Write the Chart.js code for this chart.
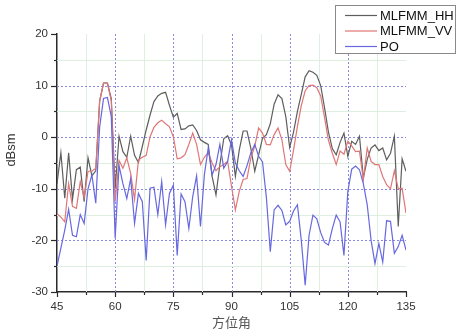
<!DOCTYPE html>
<html>
<head>
<meta charset="utf-8">
<script src="https://cdn.jsdelivr.net/npm/chart.js@4/dist/chart.umd.min.js"></script>
<style>
  html, body { margin: 0; padding: 0; background: #fff; }
  #wrap { width: 465px; height: 333px; position: relative; }
</style>
</head>
<body>
<div id="wrap"><canvas id="rcs"></canvas></div>
<script>
// RCS vs azimuth, 1 degree steps from 45 to 135

const azimuth = [
  45, 46, 47, 48, 49, 50, 51, 52, 53, 54, 55, 56, 57, 58, 59, 60, 61, 62, 63, 64,
  65, 66, 67, 68, 69, 70, 71, 72, 73, 74, 75, 76, 77, 78, 79, 80, 81, 82, 83, 84,
  85, 86, 87, 88, 89, 90, 91, 92, 93, 94, 95, 96, 97, 98, 99, 100, 101, 102, 103, 104,
  105, 106, 107, 108, 109, 110, 111, 112, 113, 114, 115, 116, 117, 118, 119, 120, 121, 122, 123, 124,
  125, 126, 127, 128, 129, 130, 131, 132, 133, 134, 135
];

const mlfmmHH = [
  -9, -3, -11.8, -3, -12, -6.3, -5.8, -12.5, -4, -7.5, -6.5, 7, 10.5, 10.5, 7.5, -10, 0.2, -2.8, -3.9, 0.2,
  -3.5, -4.9, -1.8, 1.4, 4.3, 6.9, 8, 8.5, 8.7, 6.2, 3.9, 4.6, 1.5, 1.6, 2.2, 2.4, 1.3, -0.5, -1, -1.4,
  -7.6, -11.2, -5.3, -0.3, 0.3, -1.5, -7.6, -2.5, 1.2, 1.2, -2.2, -6.6, -3.4, -0.2, 0.5, 2.6, 6.4, 8.2, 7.5, 4,
  -2, 1, 5, 8.3, 11.7, 12.9, 12.6, 12, 10, 5.7, 1, -2.2, -3.4, -1, 0.8, -3.7, -0.8, -1.4, 0.2, -7.9,
  -4.3, -2.1, -1.5, -2.6, -2.1, -4.4, -3.1, 0.2, -17.3, -4.2, -6.6
];

const mlfmmVV = [
  -14.8, -15.5, -16.4, -9, -13.4, -13.8, -8.6, -11.7, -6.6, -6.6, -6, 7, 10.5, 10.5, 7, -12.5, -4.5, -6, -4, -7,
  -12.1, -4.4, -3.9, -3.5, 0.1, 1.9, 2.8, 3.3, 2.6, 2, 0.1, -4.2, -4, -3.4, -1.4, 0.8, -1.4, -5.3, -3.9, -3,
  -5, -6.5, -5.7, -5.3, -4.7, -9.5, -14.1, -10.5, -8.2, -8, -4, -1.7, 1.8, 0.8, -1.4, -1.5, 0.5, 1.8, -0.5, -5.3,
  -6.6, -2.5, 2.1, 6.1, 9, 10, 10.1, 9.6, 8, 3.8, -0.6, -3.1, -5.3, -2.7, -3.3, -0.8, -1.7, -2.8, -2.7, -8.2,
  -2.1, -4.7, -5.3, -5.3, -7.6, -9.2, -10, -6.5, -10, -9.9, -14.7
];

const po = [
  -25, -21.5, -18, -14, -19, -19.3, -15, -16.7, -10, -7.3, -12.8, 2, 7.5, 7.7, 4, -19.6, -5.5, -9, -11.9, -8,
  -16.7, -10.9, -12.5, -23.9, -9.9, -9.7, -15, -8.6, -17, -10.9, -9.3, -22.9, -11, -12.5, -17.7, -11.5, -7.5, -17.3, -7.3, -2.1,
  -7.3, -5.3, -1.4, -6, -4.7, -0.5, -5, -6.5, -7.6, -5.5, -3, -1.4, -3.7, -4.8, -11.7, -22.2, -14.1, -13.2, -14.2, -17,
  -16.3, -14.3, -13.1, -20, -28.7, -19, -15.1, -15.8, -18.5, -20.4, -20.9, -17.7, -15.1, -16.4, -22.9, -10.5, -6.2, -5.6, -6.3, -9,
  -13.1, -20, -24.5, -20.6, -24.2, -16.2, -16.3, -22.5, -21.2, -19, -21.9
];

const seriesNames = ['MLFMM_HH', 'MLFMM_VV', 'PO'];
const seriesColors = ['#5e5e5e', '#e07676', '#6767e0'];

const xTitle = '方位角';
const yTitle = 'dBsm';

/* ---------------- helpers ---------------- */
function points(values) {
  return azimuth.map((a, i) => ({ x: a, y: values[i] }));
}

// Origin-style grid: dotted blue lines on major ticks, pale green on minor ones
const originGrid = {
  id: 'originGrid',
  beforeDatasetsDraw(chart) {
    const { ctx, chartArea: a, scales: { x, y } } = chart;
    ctx.save();
    ctx.lineWidth = 1;
    x.ticks.forEach(t => {
      if (t.value === x.min || t.value === x.max) return;
      const px = Math.round(x.getPixelForValue(t.value)) + 0.5;
      const major = t.value % 15 === 0;
      ctx.strokeStyle = major ? '#8a8ae2' : '#dfefdf';
      ctx.setLineDash(major ? [2, 2] : []);
      ctx.beginPath(); ctx.moveTo(px, a.top); ctx.lineTo(px, a.bottom); ctx.stroke();
    });
    y.ticks.forEach(t => {
      if (t.value === y.min || t.value === y.max) return;
      const py = Math.round(y.getPixelForValue(t.value)) + 0.5;
      const major = t.value % 10 === 0;
      ctx.strokeStyle = major ? '#8a8ae2' : '#dfefdf';
      ctx.setLineDash(major ? [2, 2] : []);
      ctx.beginPath(); ctx.moveTo(a.left, py); ctx.lineTo(a.right, py); ctx.stroke();
    });
    ctx.restore();
  },
  afterDraw(chart) {
    const { ctx, chartArea: a, scales: { x, y } } = chart;
    ctx.save();
    // outward tick marks, long on majors, short on minors
    ctx.strokeStyle = '#2a2a2a';
    ctx.lineWidth = 1.2;
    x.ticks.forEach(t => {
      const px = Math.round(x.getPixelForValue(t.value)) + 0.5;
      const len = t.value % 15 === 0 ? 5 : 3;
      ctx.beginPath(); ctx.moveTo(px, a.bottom); ctx.lineTo(px, a.bottom + len); ctx.stroke();
    });
    y.ticks.forEach(t => {
      const py = Math.round(y.getPixelForValue(t.value)) + 0.5;
      const len = t.value % 10 === 0 ? 6 : 3;
      ctx.beginPath(); ctx.moveTo(a.left, py); ctx.lineTo(a.left - len, py); ctx.stroke();
    });

    // y title, rotated
    ctx.fillStyle = '#333';
    ctx.font = '13px "Liberation Sans", Arial, sans-serif';
    ctx.textAlign = 'center';
    ctx.textBaseline = 'middle';
    ctx.translate(11, 150);
    ctx.rotate(-Math.PI / 2);
    ctx.fillText(yTitle, 0, 0);
    ctx.restore();

    // legend box
    ctx.save();
    ctx.fillStyle = '#fff';
    ctx.fillRect(335.5, 5.5, 120, 48);
    ctx.strokeStyle = '#8a8a8a';
    ctx.lineWidth = 1;
    ctx.strokeRect(335.5, 5.5, 120, 48);
    ctx.font = '13px "Liberation Sans", Arial, sans-serif';
    ctx.textBaseline = 'middle';
    ctx.textAlign = 'left';
    seriesNames.forEach((name, i) => {
      const ly = 15 + i * 15.5;
      ctx.strokeStyle = seriesColors[i];
      ctx.lineWidth = 1.2;
      ctx.beginPath(); ctx.moveTo(345, ly + 0.5); ctx.lineTo(377, ly + 0.5); ctx.stroke();
      ctx.fillStyle = '#111';
      ctx.fillText(name, 380, ly + 1);
    });
    ctx.restore();
  }
};

/* ---------------- chart ---------------- */
const datasets = [mlfmmHH, mlfmmVV, po].map((vals, i) => ({
  label: seriesNames[i],
  data: points(vals),
  borderColor: seriesColors[i],
  backgroundColor: seriesColors[i],
  borderWidth: 1.2,
  pointRadius: 0,
  tension: 0,
  order: 2 - i
}));

Chart.defaults.font.family = '"Liberation Sans", Arial, sans-serif';
Chart.defaults.color = '#333';

new Chart(document.getElementById('rcs'), {
  type: 'line',
  data: { datasets },
  plugins: [originGrid],
  options: {
    responsive: true,
    maintainAspectRatio: false,
    animation: false,
    events: [],
    layout: { padding: { left: 0, right: 59, top: 34, bottom: 0 } },
    plugins: { legend: { display: false }, tooltip: { enabled: false } },
    scales: {
      x: {
        type: 'linear',
        min: 45, max: 135,
        afterFit: s => { s.height = 41; },
        grid: { display: false, drawTicks: true, tickLength: 5 },
        border: { display: true, color: '#2a2a2a', width: 1.5 },
        ticks: {
          stepSize: 7.5, autoSkip: false, maxRotation: 0, padding: 3,
          font: { size: 11.5 }, color: '#333',
          callback: v => (v % 15 === 0 ? v : '')
        },
        title: {
          display: true, text: xTitle, color: '#555',
          font: { family: '"Noto Sans CJK SC", sans-serif', size: 13 },
          padding: { top: 0, bottom: 3 }
        }
      },
      y: {
        type: 'linear',
        min: -30, max: 20,
        afterFit: s => { s.width = 57; },
        grid: { display: false, drawTicks: true, tickLength: 6 },
        border: { display: true, color: '#2a2a2a', width: 1.5 },
        ticks: {
          stepSize: 5, autoSkip: false, padding: 3,
          font: { size: 11.5 }, color: '#333',
          callback: v => (v % 10 === 0 ? v : '')
        }
      }
    }
  }
});
</script>
</body>
</html>
